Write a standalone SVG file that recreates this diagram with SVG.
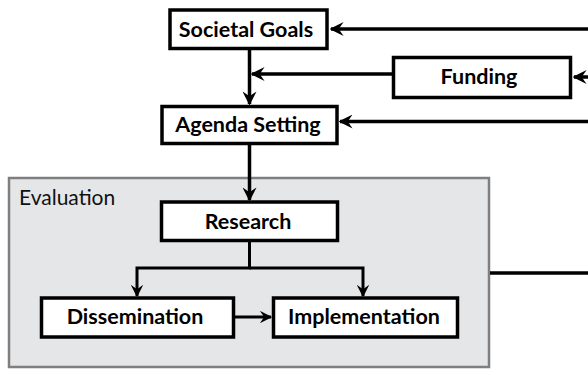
<svg xmlns="http://www.w3.org/2000/svg" width="588" height="370" viewBox="0 0 588 370">
  <style>
    .box { fill: #ffffff; stroke: #000000; stroke-width: 3.5; }
    .panel { fill: #e5e6e8; stroke: #7f7f7f; stroke-width: 2.5; }
    .label { font-family: Lato, "Liberation Sans", sans-serif; font-weight: bold; font-size: 21.5px; fill: #000000; text-anchor: middle; }
    .title { font-family: Lato, "Liberation Sans", sans-serif; font-size: 21px; fill: #111111; }
    .wire { fill: none; stroke: #000000; stroke-width: 3.5; }
    .wire-thin { fill: none; stroke: #000000; stroke-width: 3; }
  </style>
  <defs>
    <marker id="head" viewBox="0 0 10 10" refX="9" refY="5" markerWidth="14" markerHeight="14" markerUnits="userSpaceOnUse" orient="auto">
      <path d="M0,0 L10,5 L0,10 L3.5,5 z" fill="#000000"/>
    </marker>
    <marker id="head-small" viewBox="0 0 10 10" refX="9" refY="5" markerWidth="12.5" markerHeight="12.5" markerUnits="userSpaceOnUse" orient="auto">
      <path d="M0,0 L10,5 L0,10 L3.5,5 z" fill="#000000"/>
    </marker>
  </defs>

  <!-- evaluation frame around the research stage -->
  <g id="evaluation">
    <rect class="panel" x="9" y="178" width="480" height="189"/>
    <text class="title" x="19" y="205">Evaluation</text>
  </g>

  <!-- connectors -->
  <g id="connectors">
    <line class="wire" x1="588" y1="29" x2="331" y2="29" marker-end="url(#head)"/>
    <line class="wire" x1="588" y1="77" x2="574" y2="77" marker-end="url(#head)"/>
    <line class="wire" x1="588" y1="121.5" x2="340" y2="121.5" marker-end="url(#head)"/>
    <line class="wire" x1="392" y1="74" x2="252" y2="74" marker-end="url(#head)"/>
    <line class="wire" x1="249.5" y1="50" x2="249.5" y2="104" marker-end="url(#head)"/>
    <line class="wire" x1="249.5" y1="145" x2="249.5" y2="200" marker-end="url(#head)"/>
    <path class="wire-thin" d="M249.5,242 V268 H137 V296" marker-end="url(#head-small)"/>
    <path class="wire-thin" d="M249.5,268 H363 V296" marker-end="url(#head-small)"/>
    <line class="wire-thin" x1="235" y1="317" x2="271" y2="317" marker-end="url(#head-small)"/>
    <line class="wire" x1="490" y1="273" x2="588" y2="273"/>
  </g>

  <g id="societal-goals">
    <rect class="box" x="170" y="10" width="157" height="38.5"/>
    <text class="label" x="246" y="37">Societal Goals</text>
  </g>

  <g id="funding">
    <rect class="box" x="393.5" y="57.5" width="177" height="40"/>
    <text class="label" x="479" y="84">Funding</text>
  </g>

  <g id="agenda-setting">
    <rect class="box" x="162" y="106.5" width="175" height="37"/>
    <text class="label" x="248" y="131.5">Agenda Setting</text>
  </g>

  <g id="research">
    <rect class="box" x="161.5" y="202" width="176" height="38.5"/>
    <text class="label" x="248" y="228.5">Research</text>
  </g>

  <g id="dissemination">
    <rect class="box" x="41.5" y="298" width="192" height="39"/>
    <text class="label" x="135" y="323.5">Dissemination</text>
  </g>

  <g id="implementation">
    <rect class="box" x="273.5" y="298" width="184" height="39"/>
    <text class="label" x="364" y="323.5">Implementation</text>
  </g>
</svg>
